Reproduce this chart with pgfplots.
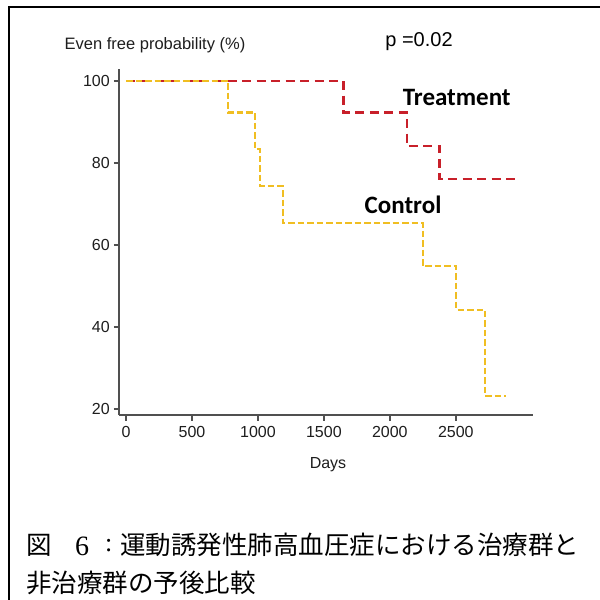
\documentclass[border=0pt]{standalone}
\usepackage{pgfplots}
\pgfplotsset{compat=1.18}
\usepackage{fontspec}
\setmainfont{Liberation Sans}
\newfontfamily\cjk{Noto Sans CJK JP}
\newfontfamily\calibri{Carlito}
\newfontfamily\serifnum{Liberation Serif}
\definecolor{trtred}{HTML}{C8202A}
\definecolor{ctrlgold}{HTML}{F0BE22}
\definecolor{axgrey}{HTML}{505050}
\definecolor{txtgrey}{HTML}{1E1E1E}
\begin{document}
\begin{tikzpicture}
\path[use as bounding box] (0pt,0pt) rectangle (600pt,-600pt);
\fill[white] (0pt,0pt) rectangle (600pt,-600pt);
\draw[line width=2.2pt, black] (8pt,-7pt) -- (600pt,-7pt);
\draw[line width=2.2pt, black] (9pt,-6pt) -- (9pt,-600pt);
\begin{axis}[
  at={(119.3pt,-415pt)}, anchor=south west,
  scale only axis, width=413.4pt, height=346pt,
  xmin=-51, xmax=3083, ymin=18.5, ymax=102.9,
  axis lines*=left,
  axis line style={axgrey, line width=2pt, -},
  xtick={0,500,1000,1500,2000,2500},
  ytick={20,40,60,80,100},
  tick align=outside,
  major tick length=5.5pt,
  tick style={axgrey, line width=1.5pt},
  every tick label/.append style={font=\fontsize{16}{19}\selectfont, text=txtgrey},
  /pgf/number format/assume math mode=true,
  /pgf/number format/1000 sep={},
  xticklabel style={yshift=-2pt},
  yticklabel style={xshift=-0.5pt},
  clip=false,
]
\addplot[const plot, trtred, line width=2.3pt, dash pattern=on 9pt off 5.5pt] coordinates {
 (0,100) (1648,92.3) (2128,84.1) (2376,76.0) (2949,76.0)};
\addplot[const plot, ctrlgold, line width=2.1pt, dash pattern=on 6.5pt off 3pt] coordinates {
 (0,100) (776,92.3) (980,83.3) (1016,74.3) (1188,65.4) (2249,54.8) (2502,44.2) (2722,23.1) (2881,23.1)};
\node[font=\calibri\bfseries\fontsize{25}{30}\selectfont] at (axis cs:2507,96) {Treatment};
\node[font=\calibri\bfseries\fontsize{25}{30}\selectfont] at (axis cs:2100,69.7) {Control};
\end{axis}
\node[font=\fontsize{16.5}{19}\selectfont, text=txtgrey] at (155pt,-45pt) {Even free probability (\%)};
\node[font=\fontsize{20}{24}\selectfont, text=black] at (419pt,-42pt) {p =0.02};
\node[font=\fontsize{16}{19}\selectfont, text=txtgrey] at (328pt,-465pt) {Days};
\node[anchor=west, inner sep=0pt, font=\fontsize{25.5}{30}\selectfont] at (26pt,-545pt) {\cjk 図};
\node[anchor=west, inner sep=0pt, font=\fontsize{28}{30}\selectfont] at (75pt,-546pt) {\serifnum 6};
\node[anchor=west, inner sep=0pt, font=\fontsize{26}{30}\selectfont] at (105pt,-546pt) {\serifnum :};
\node[anchor=west, inner sep=0pt, font=\fontsize{25.5}{30}\selectfont] at (120pt,-545pt) {\cjk 運動誘発性肺高血圧症における治療群と};
\node[anchor=west, inner sep=0pt, font=\fontsize{25.5}{30}\selectfont] at (26pt,-583pt) {\cjk 非治療群の予後比較};
\end{tikzpicture}
\end{document}
